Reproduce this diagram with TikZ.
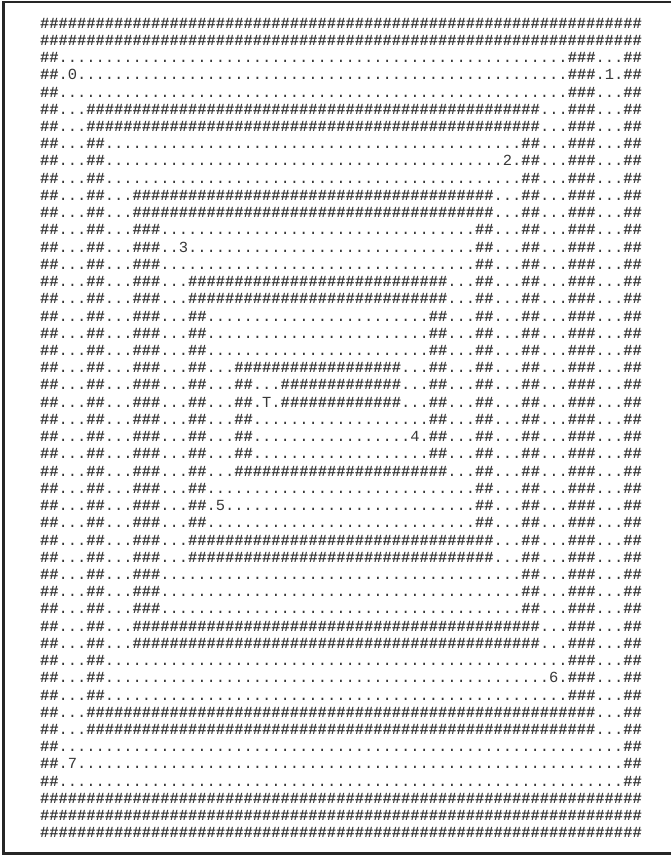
\documentclass[tikz,border=0pt]{standalone}
\usepackage{fontspec}
\setmonofont{Liberation Mono}
\ExplSyntaxOn
\NewDocumentCommand\mzW{m}{{\bfseries\prg_replicate:nn{#1}{\#}}}
\NewDocumentCommand\mzD{m}{\prg_replicate:nn{#1}{.}}
\ExplSyntaxOff
\newcommand\mzrow[3]{\node[mzline] (#1) at (40,{28.1+17.23*(#2-1)}) {#3};}
\tikzset{
  mzline/.style={inner sep=0pt, outer sep=0pt, anchor=base west, text=black!78,
    font=\ttfamily\fontsize{15.43}{15.43}\selectfont},
  mzframe/.style={draw=black!85, line width=2.4pt}
}
\begin{document}
\begin{tikzpicture}[x=1pt,y=-1pt]
\useasboundingbox (0,0) rectangle (671,856);
\draw[mzframe] (671,2) -- (3.5,2) -- (3.5,853.5) -- (671,853.5);
\mzrow{r1}{1}{\mzW{65}}
\mzrow{r2}{2}{\mzW{65}}
\mzrow{r3}{3}{\mzW2\mzD{55}\mzW3\mzD3\mzW2}
\mzrow{r4}{4}{\mzW2.0\mzD{53}\mzW3.1.\mzW2}
\mzrow{r5}{5}{\mzW2\mzD{55}\mzW3\mzD3\mzW2}
\mzrow{r6}{6}{\mzW2\mzD3\mzW{49}\mzD3\mzW3\mzD3\mzW2}
\mzrow{r7}{7}{\mzW2\mzD3\mzW{49}\mzD3\mzW3\mzD3\mzW2}
\mzrow{r8}{8}{\mzW2\mzD3\mzW2\mzD{45}\mzW2\mzD3\mzW3\mzD3\mzW2}
\mzrow{r9}{9}{\mzW2\mzD3\mzW2\mzD{43}2.\mzW2\mzD3\mzW3\mzD3\mzW2}
\mzrow{r10}{10}{\mzW2\mzD3\mzW2\mzD{45}\mzW2\mzD3\mzW3\mzD3\mzW2}
\mzrow{r11}{11}{\mzW2\mzD3\mzW2\mzD3\mzW{39}\mzD3\mzW2\mzD3\mzW3\mzD3\mzW2}
\mzrow{r12}{12}{\mzW2\mzD3\mzW2\mzD3\mzW{39}\mzD3\mzW2\mzD3\mzW3\mzD3\mzW2}
\mzrow{r13}{13}{\mzW2\mzD3\mzW2\mzD3\mzW3\mzD{34}\mzW2\mzD3\mzW2\mzD3\mzW3\mzD3\mzW2}
\mzrow{r14}{14}{\mzW2\mzD3\mzW2\mzD3\mzW3\mzD{2}3\mzD{31}\mzW2\mzD3\mzW2\mzD3\mzW3\mzD3\mzW2}
\mzrow{r15}{15}{\mzW2\mzD3\mzW2\mzD3\mzW3\mzD{34}\mzW2\mzD3\mzW2\mzD3\mzW3\mzD3\mzW2}
\mzrow{r16}{16}{\mzW2\mzD3\mzW2\mzD3\mzW3\mzD3\mzW{28}\mzD3\mzW2\mzD3\mzW2\mzD3\mzW3\mzD3\mzW2}
\mzrow{r17}{17}{\mzW2\mzD3\mzW2\mzD3\mzW3\mzD3\mzW{28}\mzD3\mzW2\mzD3\mzW2\mzD3\mzW3\mzD3\mzW2}
\mzrow{r18}{18}{\mzW2\mzD3\mzW2\mzD3\mzW3\mzD3\mzW2\mzD{24}\mzW2\mzD3\mzW2\mzD3\mzW2\mzD3\mzW3\mzD3\mzW2}
\mzrow{r19}{19}{\mzW2\mzD3\mzW2\mzD3\mzW3\mzD3\mzW2\mzD{24}\mzW2\mzD3\mzW2\mzD3\mzW2\mzD3\mzW3\mzD3\mzW2}
\mzrow{r20}{20}{\mzW2\mzD3\mzW2\mzD3\mzW3\mzD3\mzW2\mzD{24}\mzW2\mzD3\mzW2\mzD3\mzW2\mzD3\mzW3\mzD3\mzW2}
\mzrow{r21}{21}{\mzW2\mzD3\mzW2\mzD3\mzW3\mzD3\mzW2\mzD3\mzW{18}\mzD3\mzW2\mzD3\mzW2\mzD3\mzW2\mzD3\mzW3\mzD3\mzW2}
\mzrow{r22}{22}{\mzW2\mzD3\mzW2\mzD3\mzW3\mzD3\mzW2\mzD3\mzW2\mzD3\mzW{13}\mzD3\mzW2\mzD3\mzW2\mzD3\mzW2\mzD3\mzW3\mzD3\mzW2}
\mzrow{r23}{23}{\mzW2\mzD3\mzW2\mzD3\mzW3\mzD3\mzW2\mzD3\mzW2.T.\mzW{13}\mzD3\mzW2\mzD3\mzW2\mzD3\mzW2\mzD3\mzW3\mzD3\mzW2}
\mzrow{r24}{24}{\mzW2\mzD3\mzW2\mzD3\mzW3\mzD3\mzW2\mzD3\mzW2\mzD{19}\mzW2\mzD3\mzW2\mzD3\mzW2\mzD3\mzW3\mzD3\mzW2}
\mzrow{r25}{25}{\mzW2\mzD3\mzW2\mzD3\mzW3\mzD3\mzW2\mzD3\mzW2\mzD{17}4.\mzW2\mzD3\mzW2\mzD3\mzW2\mzD3\mzW3\mzD3\mzW2}
\mzrow{r26}{26}{\mzW2\mzD3\mzW2\mzD3\mzW3\mzD3\mzW2\mzD3\mzW2\mzD{19}\mzW2\mzD3\mzW2\mzD3\mzW2\mzD3\mzW3\mzD3\mzW2}
\mzrow{r27}{27}{\mzW2\mzD3\mzW2\mzD3\mzW3\mzD3\mzW2\mzD3\mzW{23}\mzD3\mzW2\mzD3\mzW2\mzD3\mzW3\mzD3\mzW2}
\mzrow{r28}{28}{\mzW2\mzD3\mzW2\mzD3\mzW3\mzD3\mzW2\mzD{29}\mzW2\mzD3\mzW2\mzD3\mzW3\mzD3\mzW2}
\mzrow{r29}{29}{\mzW2\mzD3\mzW2\mzD3\mzW3\mzD3\mzW2.5\mzD{27}\mzW2\mzD3\mzW2\mzD3\mzW3\mzD3\mzW2}
\mzrow{r30}{30}{\mzW2\mzD3\mzW2\mzD3\mzW3\mzD3\mzW2\mzD{29}\mzW2\mzD3\mzW2\mzD3\mzW3\mzD3\mzW2}
\mzrow{r31}{31}{\mzW2\mzD3\mzW2\mzD3\mzW3\mzD3\mzW{33}\mzD3\mzW2\mzD3\mzW3\mzD3\mzW2}
\mzrow{r32}{32}{\mzW2\mzD3\mzW2\mzD3\mzW3\mzD3\mzW{33}\mzD3\mzW2\mzD3\mzW3\mzD3\mzW2}
\mzrow{r33}{33}{\mzW2\mzD3\mzW2\mzD3\mzW3\mzD{39}\mzW2\mzD3\mzW3\mzD3\mzW2}
\mzrow{r34}{34}{\mzW2\mzD3\mzW2\mzD3\mzW3\mzD{39}\mzW2\mzD3\mzW3\mzD3\mzW2}
\mzrow{r35}{35}{\mzW2\mzD3\mzW2\mzD3\mzW3\mzD{39}\mzW2\mzD3\mzW3\mzD3\mzW2}
\mzrow{r36}{36}{\mzW2\mzD3\mzW2\mzD3\mzW{44}\mzD3\mzW3\mzD3\mzW2}
\mzrow{r37}{37}{\mzW2\mzD3\mzW2\mzD3\mzW{44}\mzD3\mzW3\mzD3\mzW2}
\mzrow{r38}{38}{\mzW2\mzD3\mzW2\mzD{50}\mzW3\mzD3\mzW2}
\mzrow{r39}{39}{\mzW2\mzD3\mzW2\mzD{48}6.\mzW3\mzD3\mzW2}
\mzrow{r40}{40}{\mzW2\mzD3\mzW2\mzD{50}\mzW3\mzD3\mzW2}
\mzrow{r41}{41}{\mzW2\mzD3\mzW{55}\mzD3\mzW2}
\mzrow{r42}{42}{\mzW2\mzD3\mzW{55}\mzD3\mzW2}
\mzrow{r43}{43}{\mzW2\mzD{61}\mzW2}
\mzrow{r44}{44}{\mzW2.7\mzD{59}\mzW2}
\mzrow{r45}{45}{\mzW2\mzD{61}\mzW2}
\mzrow{r46}{46}{\mzW{65}}
\mzrow{r47}{47}{\mzW{65}}
\mzrow{r48}{48}{\mzW{65}}
\end{tikzpicture}
\end{document}
